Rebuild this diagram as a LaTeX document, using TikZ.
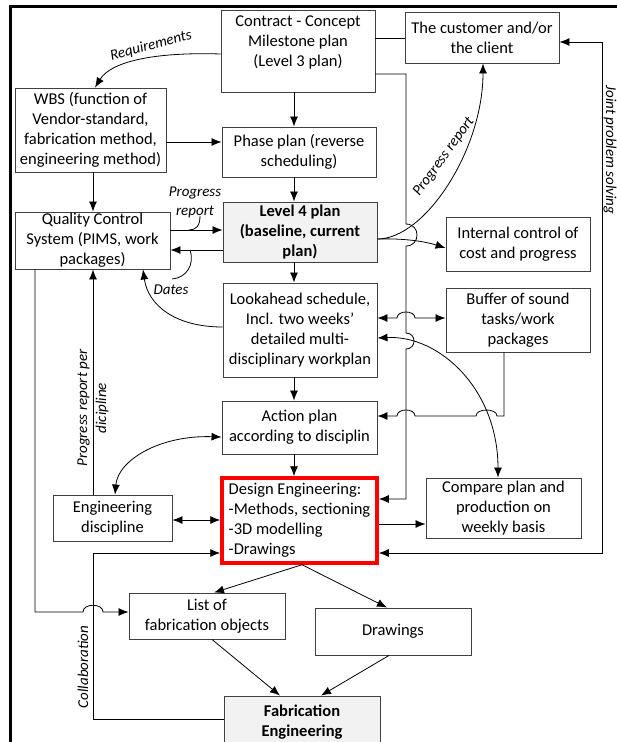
\documentclass[tikz,border=0pt]{standalone}
\usepackage{fontspec}
\setmainfont{Carlito}
\usetikzlibrary{arrows.meta}
\definecolor{boxc}{HTML}{404040}
\definecolor{fillg}{HTML}{F2F2F2}
\newcommand\mainsz{\fontsize{16.5}{20}\selectfont}
\newcommand\labsz{\fontsize{15}{19}\selectfont}
\begin{document}
\begin{tikzpicture}[x=1pt,y=-1pt,
  box/.style={draw=boxc, line width=0.9pt, align=center, inner sep=0pt, font=\mainsz},
  arr/.style={-{Latex[length=10pt,width=8pt]}, line width=0.8pt},
  darr/.style={{Latex[length=10pt,width=8pt]}-{Latex[length=10pt,width=8pt]}, line width=0.8pt},
  ln/.style={line width=0.8pt},
  lab/.style={font=\labsz\itshape, inner sep=0pt, align=center}]
\path[use as bounding box] (0,0) rectangle (617,742);
\clip (0,0) rectangle (617,742);
\fill[white] (0,0) rectangle (617,742);
% frame
\draw[line width=3pt] (10,760) -- (10,6) -- (630,6);
% boxes
\node[box, minimum width=154, minimum height=82] (A) at (298,51) {};
\node[inner sep=0pt, font=\mainsz, align=center] (Atxt) at (298,42) {Contract - Concept\\Milestone plan\\(Level 3 plan)};
\node[box, minimum width=154, minimum height=51] (B) at (482,37.5) {The customer and/or\\the client};
\node[box, minimum width=151, minimum height=84] (C) at (90.5,130) {WBS (function of\\Vendor-standard,\\fabrication method,\\engineering method)};
\node[box, minimum width=154, minimum height=50] (D) at (299,152) {Phase plan (reverse\\scheduling)};
\node[box, minimum width=155, minimum height=57] (E) at (92.5,240.5) {Quality Control\\System (PIMS, work\\packages)};
\node[box, fill=fillg, minimum width=154, minimum height=60, font=\mainsz\bfseries] (F) at (300,232) {Level 4 plan\\(baseline, current\\plan)};
\node[box, minimum width=154, minimum height=94] (G) at (300,330) {Lookahead schedule,\\Incl. two weeks’\\detailed multi-\\disciplinary workplan};
\node[box, minimum width=144, minimum height=54] (H) at (518,244) {Internal control of\\cost and progress};
\node[box, minimum width=144, minimum height=64] (I) at (518,320) {Buffer of sound\\tasks/work\\packages};
\node[box, minimum width=155, minimum height=53] (J) at (299.5,427.5) {Action plan\\according to disciplin};
\node[box, draw=red, line width=3.5pt, minimum width=155, minimum height=85, align=left] (K) at (299.5,520.5) {Design Engineering:\\-Methods, sectioning\\-3D modelling\\-Drawings};
\node[box, minimum width=119, minimum height=46] (L) at (112.5,518) {Engineering\\discipline};
\node[box, minimum width=155, minimum height=60] (M) at (503.5,508) {Compare plan and\\production on\\weekly basis};
\node[box, minimum width=156, minimum height=46] (N) at (207,616) {List of\\fabrication objects};
\node[box, minimum width=156, minimum height=47] (O) at (393,631.5) {Drawings};
\node[box, fill=fillg, minimum width=156, minimum height=52, font=\mainsz\bfseries] (P) at (302,722) {Fabrication\\Engineering};
% labels
\node[lab, rotate=15] (req) at (151,46) {Requirements};
\node[lab, rotate=54] (prc) at (444,157) {Progress report};
\node[lab] (prs) at (195,202) {Progress\\report};
\node[lab] (dat) at (171,290) {Dates};
\node[lab, rotate=-90] (jps) at (610,150) {Joint problem solving};
\node[lab, rotate=90] (prd) at (93,408) {Progress report per\\dicipline};
\node[lab, rotate=90] (col) at (83,667) {Collaboration};
% central column
\draw[arr] (A.south -| 294,0) -- (D.north -| 294,0);
\draw[arr] (D.south -| 294,0) -- (F.north -| 294,0);
\draw[arr] (F.south -| 294,0) -- (G.north -| 294,0);
\draw[arr] (G.south -| 294,0) -- (J.north -| 294,0);
\draw[arr] (J.south -| 294,0) -- (K.north -| 294,0);
% WBS
\draw[arr] (C.east |- 0,142) -- (D.west |- 0,142);
\draw[arr] (C.south -| 93,0) -- (E.north -| 93,0);
\draw[arr] (A.west |- 0,54) .. controls (160,52) and (112,60) .. (C.north -| 95,0);
% QCS <-> Level 4
\draw[arr] (E.east |- 0,230) -- (F.west |- 0,230);
\draw[arr] (F.west |- 0,250) -- (E.east |- 0,250);
\coordinate (prA) at (200,216);
\coordinate (prB) at (189,230);
\draw[ln] (prA) .. controls (200,226) and (196,230) .. (prB);
\coordinate (daA) at (190,250);
\coordinate (daB) at (172,279);
\draw[ln] (daA) .. controls (195,265) and (186,278) .. (daB);
% lookahead -> QCS
\draw[arr] (G.west |- 0,327) .. controls (175,327) and (148,305) .. (E.south -| 143,0);
% contract - customer
\draw[ln] (A.east |- 0,38) -- (B.west |- 0,38);
% long vertical line to design engineering
\draw[arr] (A.east |- 0,74) -- (406,74) -- (406,224)
  .. controls (420.7,224) and (420.7,246) .. (406,246) -- (406,333)
  .. controls (416.7,333) and (416.7,349) .. (406,349) -- (406,499) -- (K.east |- 0,499);
% level 4 to customer and internal control
\draw[arr] (F.east |- 0,239) .. controls (425,239) and (483,150) .. (B.south -| 483,0);
\draw[arr] (F.east |- 0,239) .. controls (410,238) and (430,243) .. (H.west |- 0,248);
% lookahead <-> buffer
\draw[darr] (G.east |- 0,318) -- (397,318) .. controls (397,310) and (415,310) .. (415,318) -- (I.west |- 0,318);
% lookahead <-> compare
\draw[darr] (G.east |- 0,338) .. controls (440,335) and (498,390) .. (M.north -| 498,0);
% buffer -> action plan
\draw[arr] (I.south -| 504,0) -- (504,416) -- (497,416) .. controls (497,408) and (476,408) .. (476,416)
  -- (415,416) .. controls (415,408) and (397,408) .. (397,416) -- (J.east |- 0,416);
% action plan <-> engineering discipline
\draw[darr] (J.west |- 0,437) .. controls (160,435) and (118,460) .. (L.north -| 115,0);
\draw[darr] (L.east |- 0,520) -- (K.west |- 0,520);
\draw[arr] (K.east |- 0,524) -- (M.west |- 0,524);
% joint problem solving
\draw[darr] (K.east |- 0,553) -- (602,553) -- (602,42) -- (B.east |- 0,42);
% progress report per discipline
\draw[arr] (L.north -| 93,0) -- (E.south -| 93,0);
% QCS -> list
\draw[arr] (E.south -| 35,0) -- (35,612) -- (83,612) .. controls (83,603) and (103,603) .. (103,612) -- (N.west |- 0,612);
% collaboration
\draw[arr] (P.west |- 0,719) -- (93,719) -- (93,553) -- (K.west |- 0,553);
% bottom
\draw[arr] (K.south -| 302,0) -- (N.north -| 214,0);
\draw[arr] (K.south -| 302,0) -- (O.north -| 387,0);
\draw[arr] (N.south -| 212,0) -- (P.north -| 280,0);
\draw[arr] (O.south -| 389,0) -- (P.north -| 321,0);
\end{tikzpicture}
\end{document}
